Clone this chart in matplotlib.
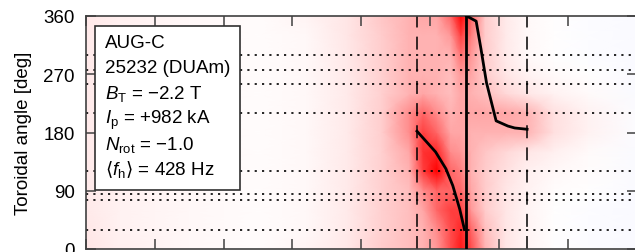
import numpy as np
import matplotlib
matplotlib.use("Agg")
import matplotlib.pyplot as plt
from matplotlib.patches import Rectangle

plt.rcParams['font.family'] = ['Liberation Sans', 'DejaVu Sans']
plt.rcParams['mathtext.fontset'] = 'custom'
plt.rcParams['mathtext.rm'] = 'Liberation Sans'
plt.rcParams['mathtext.it'] = 'Liberation Sans:italic'
plt.rcParams['mathtext.sf'] = 'DejaVu Sans'

# time axis (tick units) and toroidal angle grid of the amplitude map
t_grid = [0, 0.5, 1.5, 2.5, 3.2, 3.8, 4.3, 4.7, 4.9, 5.1, 5.3, 5.45, 5.6, 5.8, 6.1, 6.4, 6.8, 7.3, 8.0]
phi_grid = [0, 30, 60, 90, 120, 150, 180, 210, 240, 270, 300, 330, 360]
# amplitude, one column per time in t_grid (listed per time), one entry per angle
amp_cols = [
    [0.10, 0.09, 0.08, 0.08, 0.08, 0.08, 0.08, 0.08, 0.08, 0.08, 0.08, 0.08, 0.09],
    [0.06, 0.05, 0.05, 0.05, 0.05, 0.05, 0.05, 0.05, 0.05, 0.05, 0.05, 0.05, 0.06],
    [0.03, 0.03, 0.03, 0.03, 0.03, 0.03, 0.03, 0.03, 0.03, 0.03, 0.03, 0.03, 0.03],
    [0.01, 0.01, 0.01, 0.01, 0.01, 0.01, 0.01, 0.01, 0.01, 0.01, 0.01, 0.01, 0.01],
    [0.04, 0.03, 0.03, 0.03, 0.03, 0.03, 0.03, 0.03, 0.03, 0.03, 0.03, 0.03, 0.04],
    [0.09, 0.08, 0.08, 0.08, 0.08, 0.08, 0.08, 0.08, 0.08, 0.08, 0.09, 0.10, 0.10],
    [0.20, 0.18, 0.18, 0.18, 0.18, 0.18, 0.19, 0.19, 0.18, 0.18, 0.19, 0.20, 0.22],
    [0.25, 0.25, 0.25, 0.25, 0.30, 0.35, 0.45, 0.45, 0.30, 0.30, 0.30, 0.30, 0.30],
    [0.30, 0.30, 0.35, 0.45, 0.75, 0.80, 0.75, 0.60, 0.35, 0.30, 0.30, 0.30, 0.35],
    [0.40, 0.45, 0.60, 0.60, 1.00, 0.85, 0.60, 0.45, 0.30, 0.30, 0.30, 0.30, 0.35],
    [0.70, 0.70, 0.75, 0.60, 0.60, 0.45, 0.35, 0.30, 0.25, 0.25, 0.30, 0.40, 0.60],
    [0.90, 0.85, 0.75, 0.60, 0.50, 0.40, 0.35, 0.35, 0.35, 0.40, 0.55, 0.75, 1.00],
    [0.70, 0.60, 0.40, 0.35, 0.30, 0.30, 0.30, 0.35, 0.30, 0.35, 0.40, 0.50, 0.60],
    [0.30, 0.25, 0.20, 0.20, 0.20, 0.22, 0.30, 0.35, 0.25, 0.20, 0.20, 0.20, 0.20],
    [0.10, 0.10, 0.10, 0.10, 0.12, 0.15, 0.30, 0.35, 0.15, 0.10, 0.08, 0.08, 0.08],
    [0.04, 0.04, 0.04, 0.05, 0.06, 0.10, 0.30, 0.30, 0.10, 0.05, 0.03, 0.03, 0.03],
    [0.00, 0.00, 0.00, 0.01, 0.03, 0.06, 0.12, 0.12, 0.05, 0.02, 0.00, 0.00, 0.00],
    [-0.01, -0.01, -0.01, 0.00, 0.01, 0.02, 0.05, 0.05, 0.02, 0.00, -0.01, -0.01, -0.01],
    [-0.02, -0.02, -0.02, -0.02, -0.02, -0.02, -0.01, -0.01, -0.02, -0.02, -0.02, -0.02, -0.02],
]

# probe positions (dotted lines)
probe_phi = [30, 75, 85, 120, 210, 255, 277, 300]
# window limits (dashed) and phase wrap (solid)
t_window = [4.81, 6.41]
t_wrap = 5.52

# mode phase track, before and after the wrap
t_ph1 = [4.81, 5.08, 5.23, 5.33, 5.43, 5.50]
phi_ph1 = [182, 150, 124, 98, 62, 30]
t_ph2 = [5.53, 5.67, 5.74, 5.82, 5.96, 6.13, 6.23, 6.41]
phi_ph2 = [360, 352, 309, 257, 198, 190, 187, 185]

info = ["AUG-C", "25232 (DUAm)", r"$B_\mathrm{T}$ = −2.2 T", r"$I_\mathrm{p}$ = +982 kA",
        r"$N_\mathrm{rot}$ = −1.0", r"$\mathsf{⟨}f_\mathrm{h}\mathsf{⟩}$ = 428 Hz"]

fig = plt.figure(figsize=(6.35, 2.53), dpi=100)
ax = fig.add_axes([86/635, 3/253, 550.5/635, 233/253])

ax.pcolormesh(t_grid, phi_grid, np.array(amp_cols).T, shading='gouraud', cmap='bwr', vmin=-1, vmax=1, zorder=0)

for p in probe_phi:
    ax.axhline(p, color='black', lw=1.2, ls=(0, (1.3, 3.1)), zorder=2)
for t in t_window:
    ax.axvline(t, color='black', lw=1.1, ls=(0, (8.5, 6)), zorder=2)
ax.axvline(t_wrap, color='black', lw=2.0, zorder=3)
ax.plot(t_ph1, phi_ph1, color='black', lw=2.0, zorder=3)
ax.plot(t_ph2, phi_ph2, color='black', lw=2.0, zorder=3)

ax.set_xlim(0, 8)
ax.set_ylim(0, 360)
ax.set_xticks(range(9))
ax.set_yticks([0, 90, 180, 270, 360])
ax.tick_params(direction='in', length=7.5, width=1.1, color='#404040', top=True, right=True,
               labelsize=13.5, pad=8, labelbottom=False)
for s in ax.spines.values():
    s.set_color('#404040')
    s.set_linewidth(1.2)
ax.set_ylabel("Toroidal angle [deg]", fontsize=13.5, labelpad=8)

ax.add_patch(Rectangle((0.0164, 0.253), 0.264, 0.704, transform=ax.transAxes,
                       facecolor='white', edgecolor='#303030', lw=1.2, zorder=5))
for i, line in enumerate(info):
    ax.text(0.034, 0.867 - i*0.1094, line, transform=ax.transAxes, fontsize=13.5,
            va='baseline', ha='left', zorder=6)

fig.savefig("out.png", dpi=100)
